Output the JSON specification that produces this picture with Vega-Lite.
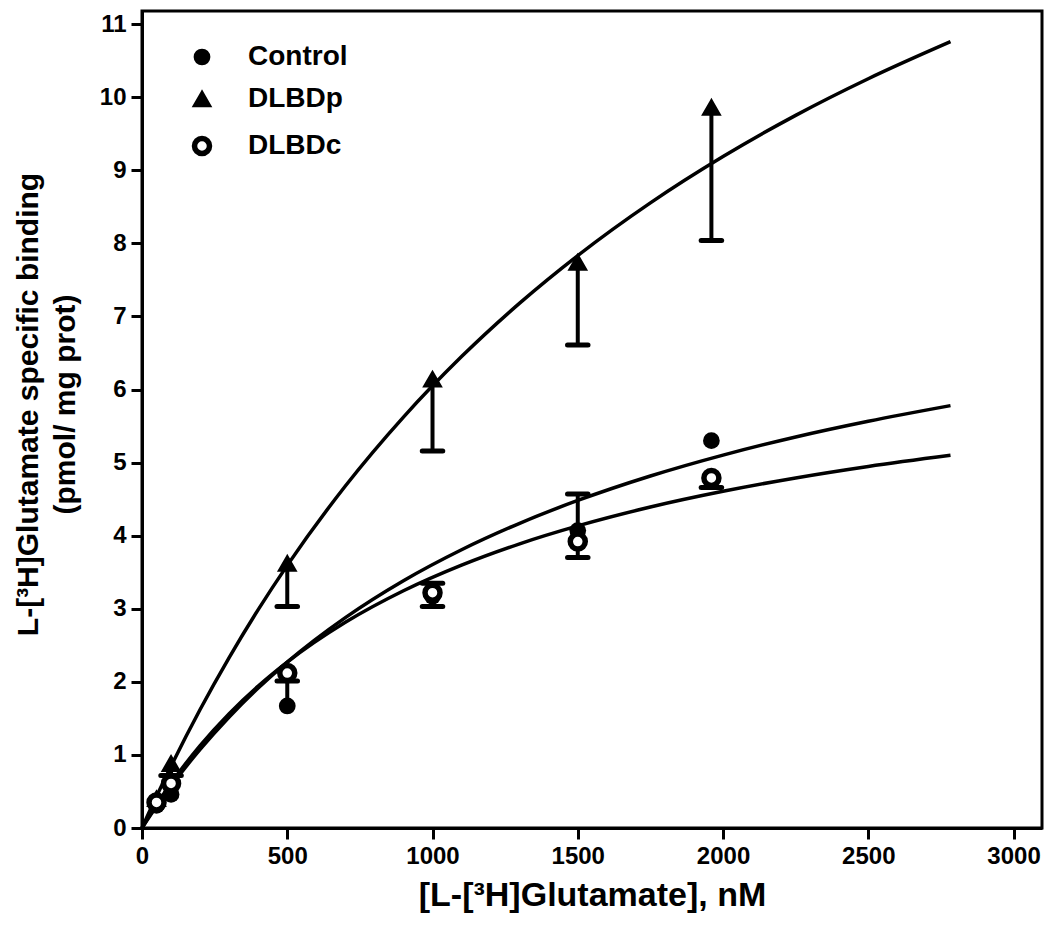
{
  "$schema": "https://vega.github.io/schema/vega-lite/v6.json",
  "width": 900,
  "height": 817,
  "autosize": "none",
  "padding": {"left": 142, "top": 11, "right": 7, "bottom": 110},
  "background": "white",
  "view": {"stroke": "black", "strokeWidth": 3, "fill": "white"},
  "config": {
    "axis": {
      "domainColor": "black", "domainWidth": 3, "tickColor": "black", "tickWidth": 3, "tickSize": 11,
      "labelFont": "Liberation Sans", "labelFontWeight": "bold", "labelFontSize": 24, "labelColor": "black",
      "titleFont": "Liberation Sans", "titleFontWeight": "bold", "titleColor": "black", "grid": false,
      "labelPadding": 5, "labelFlush": false, "labelOverlap": false
    },
    "legend": {
      "orient": "none", "legendX": 46, "legendY": 32, "padding": 0,
      "labelFont": "Liberation Sans", "labelFontWeight": "bold", "labelFontSize": 28, "labelColor": "black",
      "symbolStrokeColor": "black", "rowPadding": 14, "labelOffset": 32, "symbolOpacity": 1
    }
  },
  "datasets": {
    "curves": [
      {"group": "DLBDp", "dose": 0, "bind": 0},
      {"group": "DLBDp", "dose": 50, "bind": 0.433},
      {"group": "DLBDp", "dose": 100, "bind": 0.846},
      {"group": "DLBDp", "dose": 200, "bind": 1.621},
      {"group": "DLBDp", "dose": 300, "bind": 2.332},
      {"group": "DLBDp", "dose": 400, "bind": 2.988},
      {"group": "DLBDp", "dose": 500, "bind": 3.594},
      {"group": "DLBDp", "dose": 700, "bind": 4.68},
      {"group": "DLBDp", "dose": 900, "bind": 5.623},
      {"group": "DLBDp", "dose": 1100, "bind": 6.451},
      {"group": "DLBDp", "dose": 1300, "bind": 7.183},
      {"group": "DLBDp", "dose": 1500, "bind": 7.834},
      {"group": "DLBDp", "dose": 1750, "bind": 8.555},
      {"group": "DLBDp", "dose": 2000, "bind": 9.189},
      {"group": "DLBDp", "dose": 2250, "bind": 9.752},
      {"group": "DLBDp", "dose": 2500, "bind": 10.253},
      {"group": "DLBDp", "dose": 2783, "bind": 10.76},
      {"group": "Control", "dose": 0, "bind": 0},
      {"group": "Control", "dose": 50, "bind": 0.296},
      {"group": "Control", "dose": 100, "bind": 0.573},
      {"group": "Control", "dose": 200, "bind": 1.076},
      {"group": "Control", "dose": 300, "bind": 1.52},
      {"group": "Control", "dose": 400, "bind": 1.916},
      {"group": "Control", "dose": 500, "bind": 2.271},
      {"group": "Control", "dose": 700, "bind": 2.879},
      {"group": "Control", "dose": 900, "bind": 3.384},
      {"group": "Control", "dose": 1100, "bind": 3.808},
      {"group": "Control", "dose": 1300, "bind": 4.17},
      {"group": "Control", "dose": 1500, "bind": 4.482},
      {"group": "Control", "dose": 1750, "bind": 4.817},
      {"group": "Control", "dose": 2000, "bind": 5.103},
      {"group": "Control", "dose": 2250, "bind": 5.351},
      {"group": "Control", "dose": 2500, "bind": 5.566},
      {"group": "Control", "dose": 2783, "bind": 5.78},
      {"group": "DLBDc", "dose": 0, "bind": 0},
      {"group": "DLBDc", "dose": 50, "bind": 0.32},
      {"group": "DLBDc", "dose": 100, "bind": 0.613},
      {"group": "DLBDc", "dose": 200, "bind": 1.127},
      {"group": "DLBDc", "dose": 300, "bind": 1.565},
      {"group": "DLBDc", "dose": 400, "bind": 1.942},
      {"group": "DLBDc", "dose": 500, "bind": 2.27},
      {"group": "DLBDc", "dose": 700, "bind": 2.814},
      {"group": "DLBDc", "dose": 900, "bind": 3.246},
      {"group": "DLBDc", "dose": 1100, "bind": 3.597},
      {"group": "DLBDc", "dose": 1300, "bind": 3.889},
      {"group": "DLBDc", "dose": 1500, "bind": 4.134},
      {"group": "DLBDc", "dose": 1750, "bind": 4.392},
      {"group": "DLBDc", "dose": 2000, "bind": 4.607},
      {"group": "DLBDc", "dose": 2250, "bind": 4.79},
      {"group": "DLBDc", "dose": 2500, "bind": 4.947},
      {"group": "DLBDc", "dose": 2783, "bind": 5.1}
    ],
    "points": [
      {"group": "Control", "dose": 50, "mean": 0.31, "err": null},
      {"group": "Control", "dose": 100, "mean": 0.46, "err": null},
      {"group": "Control", "dose": 500, "mean": 1.67, "err": 2.01},
      {"group": "Control", "dose": 1000, "mean": 3.17, "err": 3.35},
      {"group": "Control", "dose": 1500, "mean": 4.07, "err": 4.57},
      {"group": "Control", "dose": 1960, "mean": 5.3, "err": null},
      {"group": "DLBDp", "dose": 50, "mean": 0.4, "err": null},
      {"group": "DLBDp", "dose": 100, "mean": 0.88, "err": 0.72},
      {"group": "DLBDp", "dose": 500, "mean": 3.62, "err": 3.03},
      {"group": "DLBDp", "dose": 1000, "mean": 6.14, "err": 5.16},
      {"group": "DLBDp", "dose": 1500, "mean": 7.74, "err": 6.61},
      {"group": "DLBDp", "dose": 1960, "mean": 9.86, "err": 8.04},
      {"group": "DLBDc", "dose": 50, "mean": 0.35, "err": null},
      {"group": "DLBDc", "dose": 100, "mean": 0.61, "err": null},
      {"group": "DLBDc", "dose": 500, "mean": 2.12, "err": null},
      {"group": "DLBDc", "dose": 1000, "mean": 3.22, "err": 3.03},
      {"group": "DLBDc", "dose": 1500, "mean": 3.92, "err": 3.7},
      {"group": "DLBDc", "dose": 1960, "mean": 4.79, "err": 4.66}
    ]
  },
  "encoding": {
    "x": {
      "field": "dose", "type": "quantitative",
      "scale": {"domain": [0, 3098], "nice": false, "zero": false},
      "axis": {
        "values": [0, 500, 1000, 1500, 2000, 2500, 3000], "format": "d",
        "title": "[L-[³H]Glutamate], nM", "titleFontSize": 34,
        "titleBaseline": "alphabetic", "titleY": 77
      }
    }
  },
  "layer": [
    {
      "data": {"name": "curves"},
      "mark": {"type": "line", "color": "black", "strokeWidth": 3.5, "interpolate": "monotone"},
      "encoding": {
        "y": {
          "field": "bind", "type": "quantitative",
          "scale": {"domain": [0, 11.18], "nice": false, "zero": false},
          "axis": {
            "values": [0, 1, 2, 3, 4, 5, 6, 7, 8, 9, 10, 11], "format": "d",
            "title": ["L-[³H]Glutamate specific binding", "(pmol/ mg prot)"],
            "titleFontSize": 30, "titleLineHeight": 37,
            "titleBaseline": "alphabetic", "titleX": -105, "titleY": 393
          }
        },
        "detail": {"field": "group", "type": "nominal"}
      }
    },
    {
      "data": {"name": "points"},
      "transform": [{"filter": "datum.err != null"}],
      "mark": {"type": "rule", "color": "black", "strokeWidth": 4},
      "encoding": {
        "y": {"field": "mean", "type": "quantitative"},
        "y2": {"field": "err"}
      }
    },
    {
      "data": {"name": "points"},
      "transform": [{"filter": "datum.err != null"}],
      "mark": {"type": "point", "shape": "stroke", "size": 420, "stroke": "black", "strokeWidth": 5, "strokeCap": "round", "opacity": 1},
      "encoding": {
        "y": {"field": "err", "type": "quantitative"}
      }
    },
    {
      "data": {"name": "points"},
      "mark": {"type": "point", "filled": true, "opacity": 1},
      "encoding": {
        "y": {"field": "mean", "type": "quantitative"},
        "shape": {
          "field": "group", "type": "ordinal",
          "scale": {"domain": ["Control", "DLBDp", "DLBDc"], "range": ["circle", "triangle-up", "circle"]},
          "legend": {"title": null}
        },
        "fill": {
          "field": "group", "type": "ordinal",
          "scale": {"domain": ["Control", "DLBDp", "DLBDc"], "range": ["black", "black", "white"]},
          "legend": {"title": null}
        },
        "stroke": {
          "field": "group", "type": "ordinal",
          "scale": {"domain": ["Control", "DLBDp", "DLBDc"], "range": ["black", "black", "black"]},
          "legend": {"title": null}
        },
        "size": {
          "field": "group", "type": "ordinal",
          "scale": {"type": "point", "padding": 0, "domain": ["Control", "DLBDp", "DLBDc"], "range": [280, 225]},
          "legend": {"title": null}
        },
        "strokeWidth": {
          "field": "group", "type": "ordinal",
          "scale": {"type": "point", "padding": 0, "domain": ["Control", "DLBDp", "DLBDc"], "range": [0, 5.5]},
          "legend": {"title": null}
        }
      }
    }
  ]
}
